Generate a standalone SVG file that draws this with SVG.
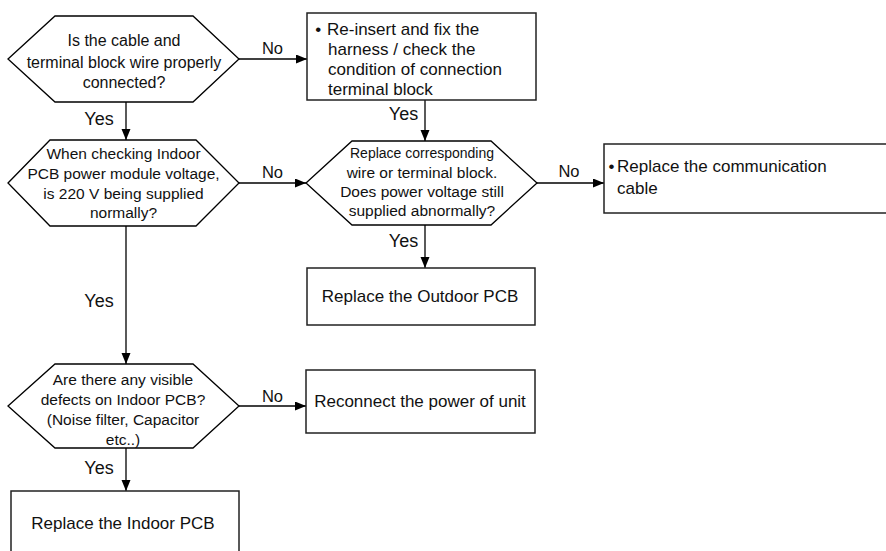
<svg xmlns="http://www.w3.org/2000/svg" width="886" height="551" viewBox="0 0 886 551">
<style>
  .hex { fill: #ffffff; stroke: #000000; stroke-width: 1.3; }
  .box { fill: #ffffff; stroke: #222222; stroke-width: 1.5; }
  .conn { fill: none; stroke: #000000; stroke-width: 1.3; marker-end: url(#arrow); }
  text { font-family: "Liberation Sans", Arial, sans-serif; fill: #111111; }
  .ht { font-size: 15.5px; text-anchor: middle; }
  .ht16 { font-size: 16px; text-anchor: middle; }
  .bt { font-size: 17px; }
  .btc { font-size: 17px; text-anchor: middle; }
  .lbl { font-size: 16.5px; text-anchor: middle; }
  .yes { font-size: 18px; text-anchor: middle; }
</style>
<defs>
  <marker id="arrow" markerUnits="userSpaceOnUse" markerWidth="12" markerHeight="10" refX="11" refY="4.5" orient="auto">
    <path d="M0,0 L11,4.5 L0,9 z" fill="#000000"/>
  </marker>
</defs>
<rect width="886" height="551" fill="#ffffff"/>

<g id="connectors">
  <line class="conn" x1="239" y1="59" x2="307" y2="59"/>
  <line class="conn" x1="126" y1="102" x2="126" y2="140"/>
  <line class="conn" x1="425" y1="100" x2="425" y2="141"/>
  <line class="conn" x1="239" y1="183" x2="306" y2="183"/>
  <line class="conn" x1="537" y1="183" x2="604" y2="183"/>
  <line class="conn" x1="425" y1="225" x2="425" y2="268"/>
  <line class="conn" x1="126" y1="226" x2="126" y2="364"/>
  <line class="conn" x1="239" y1="406" x2="306" y2="406"/>
  <line class="conn" x1="126" y1="448" x2="126" y2="491"/>
  <text class="lbl" x="272.5" y="54">No</text>
  <text class="yes" x="99" y="124.5">Yes</text>
  <text class="yes" x="403.5" y="119.5">Yes</text>
  <text class="lbl" x="272.5" y="178">No</text>
  <text class="lbl" x="569" y="177">No</text>
  <text class="yes" x="403.5" y="246.5">Yes</text>
  <text class="yes" x="99" y="306.5">Yes</text>
  <text class="lbl" x="272.5" y="402">No</text>
  <text class="yes" x="99" y="473.5">Yes</text>
</g>

<g id="q1">
  <polygon class="hex" points="8,59 55,16 193,16 239,59 193,102 55,102"/>
  <text class="ht16" x="124" y="46">Is the cable and</text>
  <text class="ht16" x="124" y="68">terminal block wire properly</text>
  <text class="ht16" x="124" y="88">connected?</text>
</g>

<g id="fix-harness">
  <rect class="box" x="307" y="13" width="229" height="87"/>
  <text class="bt" x="315.3" y="35">•</text>
  <text class="bt" x="327" y="35">Re-insert and fix the</text>
  <text class="bt" x="328" y="55">harness / check the</text>
  <text class="bt" x="328" y="75">condition of connection</text>
  <text class="bt" x="328" y="95">terminal block</text>
</g>

<g id="q2">
  <polygon class="hex" points="8,183 50,140 196,140 239,183 196,226 50,226"/>
  <text class="ht" x="123.5" y="158.5">When checking Indoor</text>
  <text class="ht" x="123.5" y="178.5">PCB power module voltage,</text>
  <text class="ht" x="123.5" y="198.5">is 220 V being supplied</text>
  <text class="ht" x="123.5" y="217.5">normally?</text>
</g>

<g id="q3">
  <polygon class="hex" points="306,183 352,141 491,141 537,183 491,225 352,225"/>
  <text class="ht" x="422" y="158" textLength="144" lengthAdjust="spacingAndGlyphs">Replace corresponding</text>
  <text class="ht" x="422" y="177.5">wire or terminal block.</text>
  <text class="ht" x="422" y="197">Does power voltage still</text>
  <text class="ht" x="422" y="216">supplied abnormally?</text>
</g>

<g id="replace-cable">
  <rect class="box" x="604" y="144" width="290" height="69"/>
  <text class="bt" x="608.5" y="172">•</text>
  <text class="bt" x="617" y="172">Replace the communication</text>
  <text class="bt" x="617" y="194">cable</text>
</g>

<g id="replace-outdoor">
  <rect class="box" x="307" y="268" width="228" height="57"/>
  <text class="btc" x="420" y="302">Replace the Outdoor PCB</text>
</g>

<g id="q4">
  <polygon class="hex" points="8,406 55,364 193,364 239,406 193,448 55,448"/>
  <text class="ht" x="123" y="384.5">Are there any visible</text>
  <text class="ht" x="123" y="404.5">defects on Indoor PCB?</text>
  <text class="ht" x="123" y="424.5">(Noise filter, Capacitor</text>
  <text class="ht" x="123" y="444.5">etc..)</text>
</g>

<g id="reconnect">
  <rect class="box" x="306" y="370" width="229" height="63"/>
  <text class="btc" x="420" y="407">Reconnect the power of unit</text>
</g>

<g id="replace-indoor">
  <rect class="box" x="11" y="491" width="228" height="70"/>
  <text class="btc" x="123" y="529">Replace the Indoor PCB</text>
</g>
</svg>
